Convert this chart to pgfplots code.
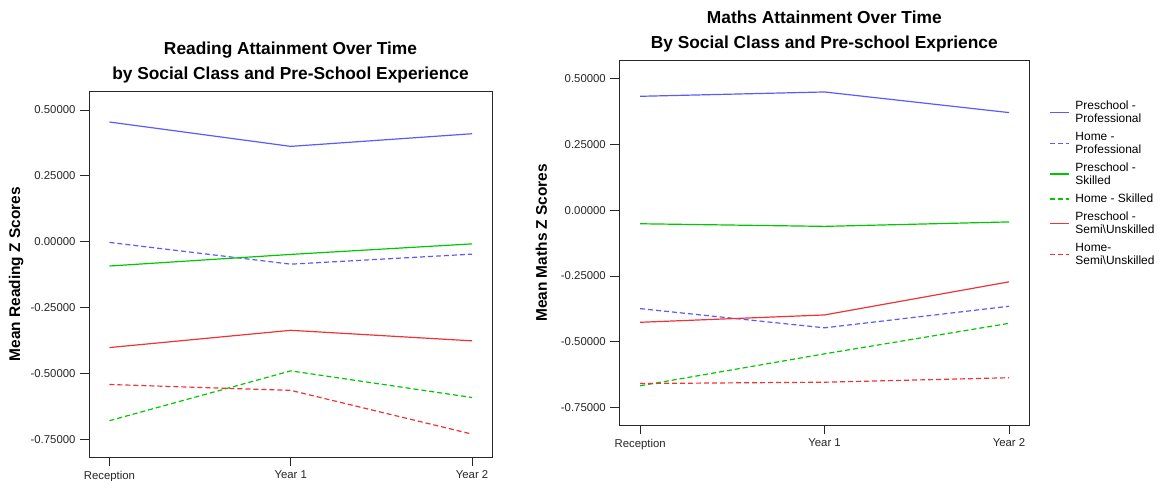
\documentclass[border=0pt]{standalone}
\usepackage{pgfplots}
\pgfplotsset{compat=1.18}
\usepackage{fontspec}
\setmainfont{Liberation Sans}
\definecolor{cblue}{RGB}{90,90,255}
\definecolor{cgreen}{RGB}{0,200,0}
\definecolor{cred}{RGB}{240,50,55}
\definecolor{axgray}{RGB}{40,40,40}
\pgfplotsset{
  common/.style={
    scale only axis,
    xmin=-0.113, xmax=2.11,
    ymin=-0.818, ymax=0.571,
    xtick={0,1,2},
    xticklabels={Reception,Year 1,Year 2},
    ytick={-0.75,-0.5,-0.25,0,0.25,0.5},
    yticklabels={-0.75000,-0.50000,-0.25000,0.00000,0.25000,0.50000},
    tick pos=left,
    tick align=outside,
    major tick length=9bp,
    axis line style={axgray, line width=1pt},
    every tick/.style={axgray, line width=1pt},
    tick label style={font=\fontsize{11.4}{13}\selectfont, text=black!85},
    xticklabel style={yshift=-1bp},
    yticklabel style={xshift=-1bp},
    label style={font=\bfseries\fontsize{15.5}{18}\selectfont},
    title style={font=\bfseries\fontsize{17.4}{25}\selectfont, align=center,
      at={(axis description cs:0.5,1)}, anchor=south, yshift=-1bp},
    every axis plot/.append style={line width=1.2pt},
  },
  solidl/.style={solid},
  dashl/.style={dash pattern=on 5bp off 3bp},
}
\begin{document}
\begin{tikzpicture}
\path[use as bounding box] (0,0) rectangle (1159bp,-481bp);
% Left chart
\begin{axis}[common,
  at={(89bp,-457.3bp)}, anchor=south west,
  width=403bp, height=366bp,
  title={Reading Attainment Over Time\\by Social Class and Pre-School Experience},
  ylabel={Mean Reading Z Scores},
  ylabel style={at={(axis description cs:-0.181,0.5)}, anchor=center},
]
\addplot[cblue, solidl] coordinates {(0,0.4545) (1,0.362) (2,0.410)};
\addplot[cblue, dashl] coordinates {(0,-0.0025) (1,-0.085) (2,-0.047)};
\addplot[cgreen, solidl] coordinates {(0,-0.092) (1,-0.048) (2,-0.008)};
\addplot[cgreen, dashl] coordinates {(0,-0.679) (1,-0.490) (2,-0.591)};
\addplot[cred, solidl] coordinates {(0,-0.4015) (1,-0.336) (2,-0.376)};
\addplot[cred, dashl] coordinates {(0,-0.5417) (1,-0.564) (2,-0.730)};
\end{axis}
% Right chart
\begin{axis}[common,
  at={(619.3bp,-425.3bp)}, anchor=south west,
  width=410bp, height=365bp,
  title={Maths Attainment Over Time\\By Social Class and Pre-school Exprience},
  ylabel={Mean Maths Z Scores},
  ylabel style={at={(axis description cs:-0.19,0.5)}, anchor=center},
  legend style={at={(axis description cs:1.04,0.9)}, anchor=north west,
    draw=none, fill=none, font=\fontsize{12}{13}\selectfont,
    cells={align=left, anchor=west}, row sep=4bp, column sep=4bp},
  legend cell align=left,
  legend image code/.code={\draw[#1, line width=1.6pt] (0bp,0bp) -- (19bp,0bp);},
]
\addplot[cblue, solidl] coordinates {(0,0.434) (1,0.4505) (2,0.372)};
\addlegendentry{Preschool -\\Professional}
\addplot[cblue, dashl] coordinates {(0,-0.374) (1,-0.447) (2,-0.365)};
\addlegendentry{Home -\\Professional}
\addplot[cgreen, solidl] coordinates {(0,-0.051) (1,-0.061) (2,-0.044)};
\addlegendentry{Preschool -\\Skilled}
\addplot[cgreen, dashl] coordinates {(0,-0.6675) (1,-0.546) (2,-0.430)};
\addlegendentry{Home - Skilled}
\addplot[cred, solidl] coordinates {(0,-0.426) (1,-0.398) (2,-0.272)};
\addlegendentry{Preschool -\\Semi\textbackslash Unskilled}
\addplot[cred, dashl] coordinates {(0,-0.659) (1,-0.654) (2,-0.637)};
\addlegendentry{Home-\\Semi\textbackslash Unskilled}
\end{axis}
\end{tikzpicture}
\end{document}
